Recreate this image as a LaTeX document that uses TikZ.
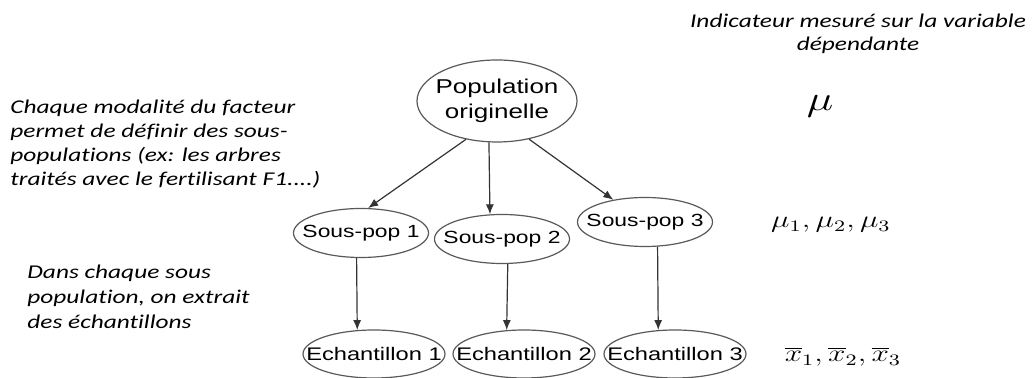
\documentclass[tikz,border=0pt]{standalone}
\usepackage{fontspec}
\setmainfont{Liberation Sans}
\newfontfamily\notefont[Ligatures=NoCommon]{Carlito}
\usetikzlibrary{shapes.geometric,arrows.meta}
\newcommand\widen[1]{\scalebox{1.3}[1]{#1}}
\newcommand\ovaltext[1]{\makebox[0pt]{\widen{#1}}}

\begin{document}
\begin{tikzpicture}[x=0.5pt,y=-0.5pt,
    oval/.style={ellipse,draw=black!65,line width=0.6pt,inner sep=0pt},
    popoval/.style={oval,minimum width=80pt,minimum height=41pt,align=center,
      font=\fontsize{10}{12.5}\selectfont},
    subpop/.style={oval,minimum width=67.5pt,minimum height=24.5pt,
      font=\fontsize{8.8}{10}\selectfont},
    sample/.style={oval,minimum width=71pt,minimum height=24pt,
      font=\fontsize{9.1}{10}\selectfont},
    note/.style={inner sep=0pt,font=\notefont\itshape\fontsize{9.75}{12}\selectfont},
    stat/.style={inner sep=0pt},
    link/.style={draw=black!80,line width=0.6pt,-{Latex[length=5pt,width=4pt]}}]
  \useasboundingbox (0,0) rectangle (1035,378);

  % the tree
  \node[popoval] (pop) at (497,101) {\ovaltext{Population}\\\ovaltext{originelle}};
  \node[subpop] (sp1) at (361,233) {\ovaltext{Sous-pop 1}};
  \node[subpop] (sp2) at (502,239) {\ovaltext{Sous-pop 2}};
  \node[subpop] (sp3) at (645,222) {\ovaltext{Sous-pop 3}};
  \node[sample] (e1) at (374,354) {\ovaltext{Echantillon 1}};
  \node[sample] (e2) at (524,354) {\ovaltext{Echantillon 2}};
  \node[sample] (e3) at (675,354) {\ovaltext{Echantillon 3}};

  \draw[link] (pop.231) -- (sp1.74);
  \draw[link] (pop.259) -- (sp2.116);
  \draw[link] (pop.310) -- (sp3.145);
  \draw[link] (sp1.260) -- (e1.125);
  \draw[link] (sp2.283) -- (e2.126);
  \draw[link] (sp3.297) -- (e3.125);

  % comments on the left
  \node[note,anchor=north west] (modal) at (10,96) {\widen{\begin{tabular}{@{}l@{}}
    Chaque modalité du facteur\\
    permet de définir des sous-\\
    populations (ex: les arbres\\
    traités avec le fertilisant F1....)\end{tabular}}};
  \node[note,anchor=north west,font=\notefont\itshape\fontsize{9.75}{12.5}\selectfont]
    (extract) at (27,261) {\widen{\begin{tabular}{@{}l@{}}
    Dans chaque sous\\
    population, on extrait\\
    des échantillons\end{tabular}}};

  % indicators on the right
  \node[note,anchor=north,font=\notefont\itshape\fontsize{9.75}{11.5}\selectfont]
    (indic) at (858,11) {\widen{\begin{tabular}{@{}c@{}}
    Indicateur mesuré sur la variable\\
    dépendante\end{tabular}}};
  \node[stat,font=\LARGE] (mu) at (820,106) {\widen{$\mu$}};
  \node[stat,font=\large] (mus) at (831,225) {\widen{$\mu_1 , \mu_2 , \mu_3$}};
  \node[stat,font=\large] (xbars) at (843,357)
    {\widen{$\overline{x}_1 , \overline{x}_2 , \overline{x}_3$}};
\end{tikzpicture}
\end{document}
